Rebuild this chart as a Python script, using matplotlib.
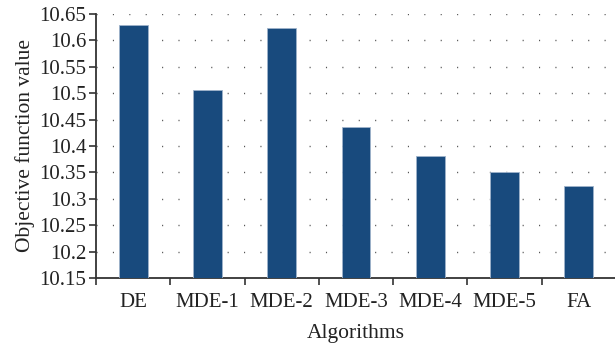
import matplotlib
matplotlib.use("Agg")
import matplotlib.pyplot as plt
import numpy as np
from matplotlib.ticker import FixedLocator

categories = ["DE", "MDE-1", "MDE-2", "MDE-3", "MDE-4", "MDE-5", "FA"]
values = [10.629, 10.507, 10.6235, 10.436, 10.381, 10.350, 10.324]
yticks = [10.15, 10.2, 10.25, 10.3, 10.35, 10.4, 10.45, 10.5, 10.55, 10.6, 10.65]
ytick_labels = ["10.15", "10.2", "10.25", "10.3", "10.35", "10.4", "10.45", "10.5", "10.55", "10.6", "10.65"]

plt.rcParams['font.family'] = ['Liberation Serif', 'DejaVu Serif']

fig = plt.figure(figsize=(6.15, 3.51), dpi=100)
ax = fig.add_axes([96/615, 1 - 278/351, 520/615, 264/351])

x = np.arange(len(categories))
ax.bar(x, values, width=0.39, bottom=0, color='#184a7d', edgecolor='#9fb3cb', linewidth=0.6, zorder=3)

ax.set_xlim(-0.5, len(categories) - 0.5)
ax.set_ylim(10.15, 10.65)
ax.set_yticks(yticks)
ax.set_yticklabels(ytick_labels)
ax.set_xticks(x)
ax.set_xticklabels(categories)
ax.xaxis.set_minor_locator(FixedLocator(np.arange(len(categories) + 1) - 0.5))
ax.tick_params(axis='x', which='major', length=0, pad=10.5, labelsize=15, colors='#222222')
ax.tick_params(axis='x', which='minor', length=5, width=1.2, direction='out', color='#333333')
ax.tick_params(axis='y', length=5, width=1.2, direction='out', color='#333333', labelsize=15, labelcolor='#222222', pad=2)

for y in yticks[1:]:
    ax.axhline(y, color='#555555', linestyle=(0, (0.8, 11)), linewidth=1.0, zorder=1)

for s in ['top', 'right']:
    ax.spines[s].set_visible(False)
for s in ['left', 'bottom']:
    ax.spines[s].set_color('#333333')
    ax.spines[s].set_linewidth(1.3)

ax.set_ylabel("Objective function value", fontsize=15.5, color='#222222', labelpad=3)
ax.set_xlabel("Algorithms", fontsize=15.5, color='#222222', labelpad=9)

fig.savefig("out.png", dpi=100)
